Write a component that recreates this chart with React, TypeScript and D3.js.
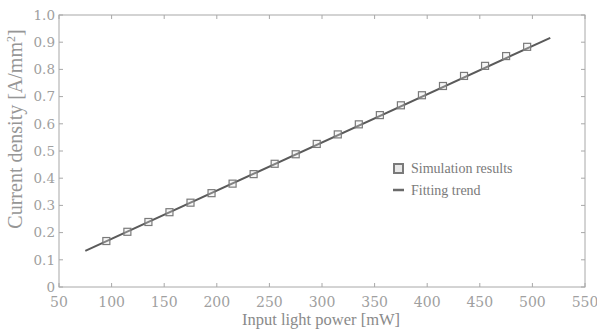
import React from "react";
import * as d3 from "d3";

const powerMW = [95, 115, 135, 155, 175, 195, 215, 235, 255, 275, 295, 315, 335, 355, 375, 395, 415, 435, 455, 475, 495];
const currentDensity = [0.169, 0.203, 0.239, 0.275, 0.31, 0.345, 0.38, 0.415, 0.453, 0.488, 0.526, 0.561, 0.598, 0.632, 0.668, 0.705, 0.739, 0.776, 0.813, 0.849, 0.883];
const fitX = [75, 517];
const fitY = [0.133, 0.916];
const xTicks = [50, 100, 150, 200, 250, 300, 350, 400, 450, 500, 550];
const yTicks = [0, 0.1, 0.2, 0.3, 0.4, 0.5, 0.6, 0.7, 0.8, 0.9, 1.0];
const legendLabels = ["Simulation results", "Fitting trend"];

const W = 597, H = 331;
const L = 59, R = 585, T = 15, B = 287;

export default function App() {
  const x = d3.scaleLinear().domain([50, 550]).range([L, R]);
  const y = d3.scaleLinear().domain([0, 1]).range([B, T]);
  const line = d3.line<number>().x((_, i) => x(fitX[i])).y((d) => y(d));
  const axisColor = "#a8a8a8";
  const tickColor = "#a0a0a0";
  const tl = 4;
  const yFmt = (v: number) => (v === 0 ? "0" : v.toFixed(1));
  return (
    <svg width={W} height={H} style={{ position: "absolute", left: 0, top: 0, background: "#fff" }}>
      <rect x={L} y={T} width={R - L} height={B - T} fill="none" stroke={axisColor} strokeWidth={1} />
      {xTicks.map((t) => (
        <g key={"x" + t}>
          <line x1={x(t)} x2={x(t)} y1={B} y2={B - tl} stroke={axisColor} />
          <line x1={x(t)} x2={x(t)} y1={T} y2={T + tl} stroke={axisColor} />
          <text x={x(t)} y={307} textAnchor="middle" fontFamily="DejaVu Serif" fontSize={14} fill={tickColor}>{t}</text>
        </g>
      ))}
      {yTicks.map((t) => (
        <g key={"y" + t}>
          <line x1={L} x2={L + tl} y1={y(t)} y2={y(t)} stroke={axisColor} />
          <line x1={R} x2={R - tl} y1={y(t)} y2={y(t)} stroke={axisColor} />
          <text x={55} y={y(t)} dy="0.36em" textAnchor="end" fontFamily="DejaVu Serif" fontSize={13.5} fill={tickColor}>{yFmt(t)}</text>
        </g>
      ))}
      <text x={(L + R) / 2 - 1} y={325} textAnchor="middle" fontFamily="Liberation Serif" fontSize={16.5} fill="#8a8a8a">Input light power [mW]</text>
      <text transform="translate(22,129) rotate(-90)" textAnchor="middle" fontFamily="Liberation Serif" fontSize={20} fill="#969696">
        Current density [A/mm<tspan dy="-7" fontSize={12}>2</tspan><tspan dy="7">]</tspan>
      </text>
      <path d={line(fitY) || ""} fill="none" stroke="#5a5a5a" strokeWidth={2} />
      {powerMW.map((p, i) => (
        <rect key={p} x={x(p) - 3.5} y={y(currentDensity[i]) - 3.5} width={7} height={7} fill="#e4e4e4" fillOpacity={0.3} stroke="#7a7a7a" strokeWidth={1.2} />
      ))}
      <rect x={394} y={164} width={9} height={9} fill="#e8e8e8" stroke="#7a7a7a" strokeWidth={2} />
      <text x={411} y={173} fontFamily="Liberation Serif" fontSize={14} fill="#7a7a7a">{legendLabels[0]}</text>
      <line x1={393} x2={404} y1={190} y2={190} stroke="#6a6a6a" strokeWidth={2.5} />
      <text x={411} y={194.5} fontFamily="Liberation Serif" fontSize={14} fill="#7a7a7a">{legendLabels[1]}</text>
    </svg>
  );
}
